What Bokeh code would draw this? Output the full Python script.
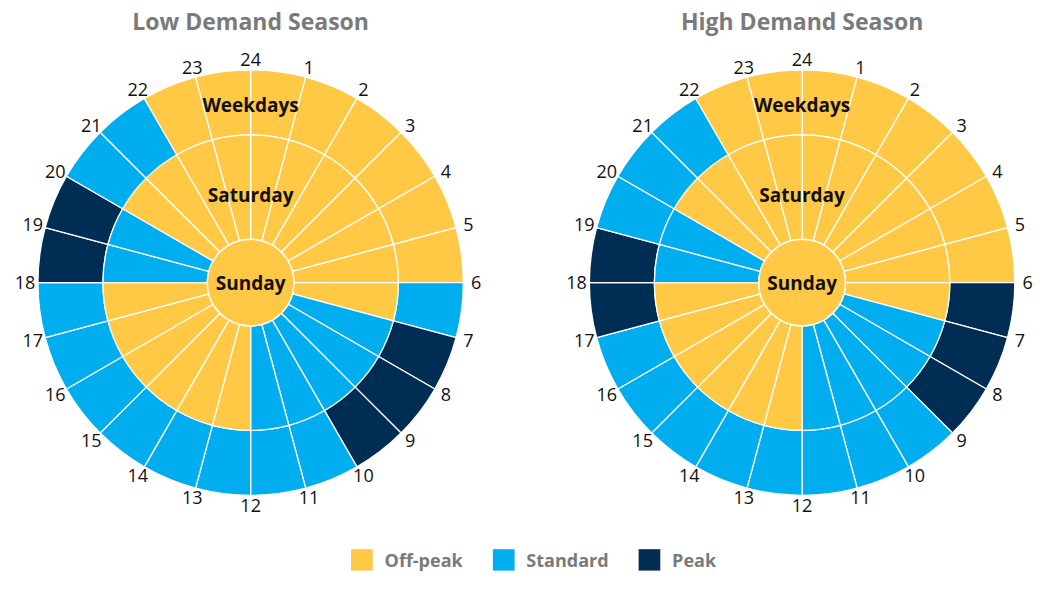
import math
from bokeh.plotting import figure
from bokeh.models import Range1d, ColumnDataSource
from bokeh.core.properties import value
from bokeh.embed import file_html
from bokeh.resources import INLINE

# ---------------- data ----------------
hour_labels = ["24", "1", "2", "3", "4", "5", "6", "7", "8", "9", "10", "11",
               "12", "13", "14", "15", "16", "17", "18", "19", "20", "21", "22", "23"]
season_titles = ["Low Demand Season", "High Demand Season"]
ring_names = ["Weekdays", "Saturday", "Sunday"]
categories = ["Off-peak", "Standard", "Peak"]
category_colors = ["#FFC845", "#00AEEF", "#002D53"]

low_weekdays = ["Off-peak", "Off-peak", "Off-peak", "Off-peak", "Off-peak", "Off-peak",
                "Standard", "Peak", "Peak", "Peak", "Standard", "Standard",
                "Standard", "Standard", "Standard", "Standard", "Standard", "Standard",
                "Peak", "Peak", "Standard", "Standard", "Off-peak", "Off-peak"]
low_saturday = ["Off-peak", "Off-peak", "Off-peak", "Off-peak", "Off-peak", "Off-peak",
                "Off-peak", "Standard", "Standard", "Standard", "Standard", "Standard",
                "Off-peak", "Off-peak", "Off-peak", "Off-peak", "Off-peak", "Off-peak",
                "Standard", "Standard", "Off-peak", "Off-peak", "Off-peak", "Off-peak"]
low_sunday = ["Off-peak", "Off-peak", "Off-peak", "Off-peak", "Off-peak", "Off-peak",
              "Off-peak", "Off-peak", "Off-peak", "Off-peak", "Off-peak", "Off-peak",
              "Off-peak", "Off-peak", "Off-peak", "Off-peak", "Off-peak", "Off-peak",
              "Off-peak", "Off-peak", "Off-peak", "Off-peak", "Off-peak", "Off-peak"]
high_weekdays = ["Off-peak", "Off-peak", "Off-peak", "Off-peak", "Off-peak", "Off-peak",
                 "Peak", "Peak", "Peak", "Standard", "Standard", "Standard",
                 "Standard", "Standard", "Standard", "Standard", "Standard", "Peak",
                 "Peak", "Standard", "Standard", "Standard", "Off-peak", "Off-peak"]
high_saturday = ["Off-peak", "Off-peak", "Off-peak", "Off-peak", "Off-peak", "Off-peak",
                 "Off-peak", "Standard", "Standard", "Standard", "Standard", "Standard",
                 "Off-peak", "Off-peak", "Off-peak", "Off-peak", "Off-peak", "Off-peak",
                 "Standard", "Standard", "Off-peak", "Off-peak", "Off-peak", "Off-peak"]
high_sunday = ["Off-peak", "Off-peak", "Off-peak", "Off-peak", "Off-peak", "Off-peak",
               "Off-peak", "Off-peak", "Off-peak", "Off-peak", "Off-peak", "Off-peak",
               "Off-peak", "Off-peak", "Off-peak", "Off-peak", "Off-peak", "Off-peak",
               "Off-peak", "Off-peak", "Off-peak", "Off-peak", "Off-peak", "Off-peak"]

seasons = [
    [low_weekdays, low_saturday, low_sunday],
    [high_weekdays, high_saturday, high_sunday],
]

# ---------------- layout ----------------
W, H = 1034, 574
centers = [(254, -290), (814, -290)]
ring_radii = [(150, 216), (44, 150), (0, 44)]
label_r = [183, 90, 0]
hour_label_r = 229
color_of = dict(zip(categories, category_colors))
FONT = value("Open Sans")

p = figure(width=W, height=H, output_backend="svg", toolbar_location=None,
           x_range=Range1d(0, 1050), y_range=Range1d(-590, 0),
           min_border=0, outline_line_color=None, background_fill_color="white")
p.axis.visible = False
p.grid.visible = False

for si, (cx, cy) in enumerate(centers):
    for ri, ring in enumerate(seasons[si]):
        r0, r1 = ring_radii[ri]
        starts = [math.radians(90 - (h + 1) * 15) for h in range(24)]
        ends = [math.radians(90 - h * 15) for h in range(24)]
        cols = [color_of[c] for c in ring]
        src = ColumnDataSource(dict(x=[cx] * 24, y=[cy] * 24, s=starts, e=ends, c=cols))
        if r0 == 0:
            p.wedge(x="x", y="y", radius=r1, start_angle="s", end_angle="e",
                    fill_color="c", line_color="c", line_width=1, source=src)
            p.circle(x=[cx], y=[cy], radius=r1, fill_color=None,
                     line_color="white", line_width=1.5)
        else:
            p.annular_wedge(x="x", y="y", inner_radius=r0, outer_radius=r1,
                            start_angle="s", end_angle="e", fill_color="c",
                            line_color="white", line_width=1.3, source=src)
    # ring names
    p.text(x=[cx] * 3, y=[cy + r for r in label_r], text=ring_names,
           text_font=FONT, text_font_style="bold", text_font_size="19px",
           text_color="#111111", text_align="center", text_baseline="middle")
    # hour labels
    hx = [cx + hour_label_r * math.sin(math.radians(h * 15)) for h in range(24)]
    hy = [cy + hour_label_r * math.cos(math.radians(h * 15)) for h in range(24)]
    p.text(x=hx, y=hy, text=hour_labels, text_font=FONT, text_font_size="18px",
           text_color="#111111", text_align="center", text_baseline="middle")
    # season title
    p.text(x=[cx], y=[-21], text=[season_titles[si]], text_font=FONT,
           text_font_style="bold", text_font_size="23px", text_color="#7a7a7a",
           text_align="center", text_baseline="middle")

# legend
leg_x = [367, 511, 659]
leg_y = -575
p.rect(x=leg_x, y=[leg_y] * 3, width=22, height=22, fill_color=category_colors,
       line_color=None)
p.text(x=[x + 23 for x in leg_x], y=[leg_y] * 3, text=categories, text_font=FONT,
       text_font_style="bold", text_font_size="18px", text_color="#7a7a7a",
       text_align="left", text_baseline="middle")

open("out.html", "w").write(file_html(p, INLINE))
